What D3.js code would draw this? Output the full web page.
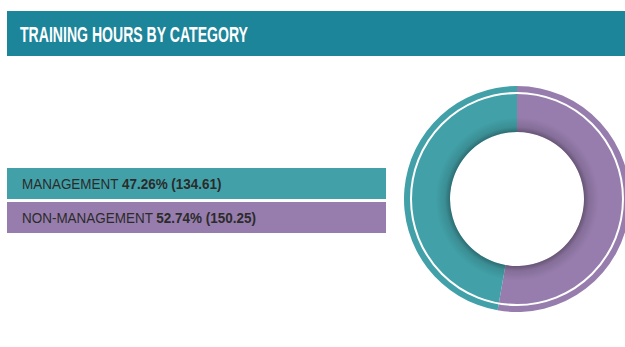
<!DOCTYPE html>
<html>
<head>
<meta charset="utf-8">
<script src="https://cdn.jsdelivr.net/npm/d3@7"></script>
<style>
  html, body { margin: 0; padding: 0; background: #fff; }
  svg { display: block; }
</style>
</head>
<body>
<svg id="chart" width="625" height="347"></svg>
<script>
// Training hours split by employee category
const categories = ["MANAGEMENT", "NON-MANAGEMENT"];
const hours = [134.61, 150.25];
const percents = [47.26, 52.74];
const colors = ["#42a1a8", "#977dad"];
const title = "TRAINING HOURS BY CATEGORY";

const svg = d3.select("#chart");
const font = "'Liberation Sans', Arial, sans-serif";

// Header band
svg.append("rect")
  .attr("x", 7).attr("y", 11).attr("width", 618).attr("height", 45)
  .attr("fill", "#1d859a");
// condensed headline lettering
svg.append("text")
  .attr("transform", "translate(20,42) scale(0.64,1)")
  .attr("fill", "#fff")
  .attr("font-family", font)
  .attr("font-weight", "bold")
  .attr("font-size", 22)
  .text(title);

// Legend bars
const band = d3.scaleBand().domain(categories).range([168, 233]).paddingInner(0.088);
const legend = svg.append("g");
categories.forEach((c, i) => {
  legend.append("rect")
    .attr("x", 7).attr("y", band(c))
    .attr("width", 379).attr("height", band.bandwidth())
    .attr("fill", colors[i]);
  const t = legend.append("text")
    .attr("transform", `translate(22,${band(c) + band.bandwidth() / 2 + 5.4}) scale(0.88,1)`)
    .attr("fill", "#2b2b2b")
    .attr("font-family", font)
    .attr("font-size", 15.3);
  t.append("tspan").text(c + " ");
  t.append("tspan").attr("font-weight", "bold")
    .text(d3.format(".2f")(percents[i]) + "% (" + d3.format(".2f")(hours[i]) + ")");
});

// Donut
const cx = 517, cy = 199, outerR = 113, innerR = 67;
const g = svg.append("g").attr("transform", `translate(${cx},${cy})`);

const pie = d3.pie().sort(null).value(d => d.v);
// non-management drawn clockwise from the top, management fills the rest
const data = [
  { name: categories[1], v: hours[1], color: colors[1] },
  { name: categories[0], v: hours[0], color: colors[0] }
];
const arc = d3.arc().innerRadius(innerR).outerRadius(outerR);
g.selectAll("path.slice").data(pie(data)).join("path")
  .attr("class", "slice")
  .attr("d", arc)
  .attr("fill", d => d.data.color);

// soft inner shadow around the hole
const defs = svg.append("defs");
const grad = defs.append("radialGradient")
  .attr("id", "innerShade")
  .attr("gradientUnits", "userSpaceOnUse")
  .attr("cx", 0).attr("cy", 0).attr("r", outerR);
grad.append("stop").attr("offset", innerR / outerR).attr("stop-color", "#000").attr("stop-opacity", 0.32);
grad.append("stop").attr("offset", (innerR + 5) / outerR).attr("stop-color", "#000").attr("stop-opacity", 0.12);
grad.append("stop").attr("offset", (innerR + 15) / outerR).attr("stop-color", "#000").attr("stop-opacity", 0);
g.append("path")
  .attr("d", d3.arc().innerRadius(innerR).outerRadius(outerR).startAngle(0).endAngle(2 * Math.PI)())
  .attr("fill", "url(#innerShade)");

// thin white ring inside the outer edge
g.append("circle")
  .attr("r", 106)
  .attr("fill", "none")
  .attr("stroke", "#fff")
  .attr("stroke-width", 2);
</script>
</body>
</html>
